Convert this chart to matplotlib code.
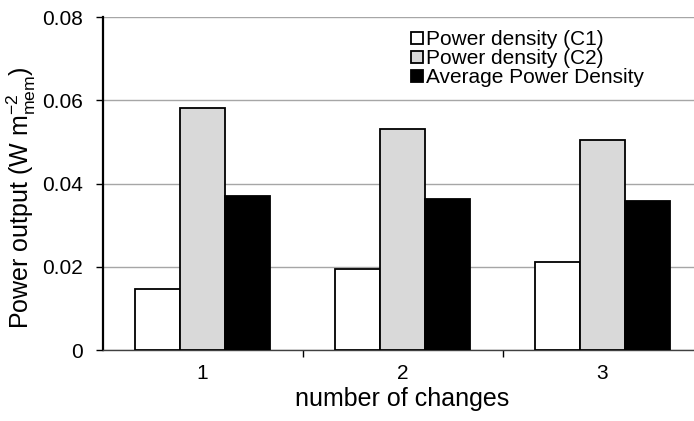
import numpy as np
import matplotlib.pyplot as plt

plt.rcParams['font.family'] = ['Liberation Sans', 'DejaVu Sans']
plt.rcParams['mathtext.fontset'] = 'custom'
plt.rcParams['mathtext.rm'] = 'Liberation Sans'
plt.rcParams['mathtext.it'] = 'Liberation Sans'

changes = [1, 2, 3]
pd_c1 = [0.0147, 0.0194, 0.0211]
pd_c2 = [0.0582, 0.0530, 0.0504]
pd_avg = [0.0369, 0.0363, 0.0358]
labels = ['Power density (C1)', 'Power density (C2)', 'Average Power Density']
colors = ['white', '#d9d9d9', 'black']

fig = plt.figure(figsize=(6.94, 4.21), dpi=100)
# plot area runs past the right edge of the figure
ax = fig.add_axes([0.1477, 0.1686, 0.8646, 0.791])

x = np.arange(len(changes)) + 1
w = 0.225
for i, (vals, lab, col) in enumerate(zip([pd_c1, pd_c2, pd_avg], labels, colors)):
    ax.bar(x + (i - 1) * w, vals, w, color=col, edgecolor='black', linewidth=1.3,
           label=lab, zorder=3)

ax.set_xlim(0.5, 3.5)
ax.set_ylim(0, 0.08)
ax.set_yticks([0, 0.02, 0.04, 0.06, 0.08])
ax.set_yticklabels(['0', '0.02', '0.04', '0.06', '0.08'])
ax.yaxis.grid(True, color='#a6a6a6', linewidth=1.0, zorder=0)
ax.set_axisbelow(True)

ax.set_xticks(x)
ax.set_xticklabels([str(c) for c in changes])
ax.tick_params(axis='x', length=0, pad=10, labelsize=15)
ax.set_xticks([1.5, 2.5, 3.5], minor=True)
ax.tick_params(axis='x', which='minor', length=5, width=1, direction='out')
ax.tick_params(axis='y', length=5, width=1, direction='out', labelsize=15, pad=9)

for s in ['top', 'right']:
    ax.spines[s].set_visible(False)
ax.spines['left'].set_linewidth(1.6)
ax.spines['bottom'].set_linewidth(1.0)
ax.spines['bottom'].set_color('#404040')

ax.set_xlabel('number of changes', fontsize=18, labelpad=3)
ax.set_ylabel(r'Power output (W m$^{-2}_{\mathrm{mem}}$)', fontsize=18)
ax.yaxis.set_label_coords(-0.108, 0.456)

fig.legend(*ax.get_legend_handles_labels(), loc='upper left',
           bbox_to_anchor=(0.592, 0.928), frameon=False, fontsize=15,
           handlelength=0.56, handleheight=0.56, handletextpad=0.15, labelspacing=0.0,
           borderaxespad=0, borderpad=0)

fig.savefig('out.png', dpi=100)
